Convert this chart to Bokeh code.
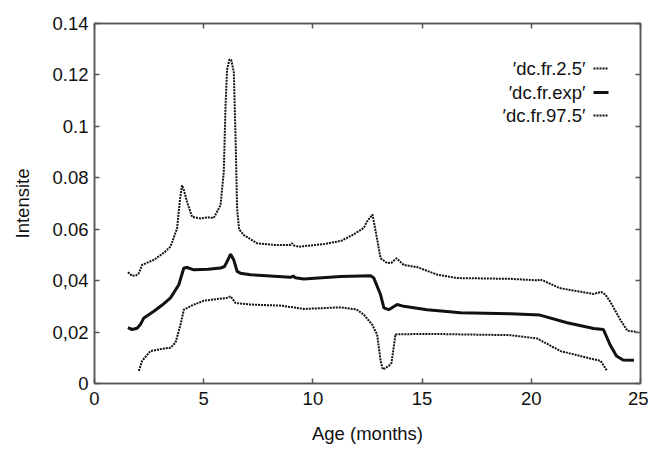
from bokeh.plotting import figure
from bokeh.models import LinearAxis, FixedTicker, Label, PolyAnnotation
from bokeh.embed import file_html
from bokeh.resources import INLINE

# ---- data ----
x_hi = [1.53, 1.72, 1.9, 2.03, 2.18, 2.72, 3.2, 3.48, 3.78, 3.92, 4.01, 4.1, 4.24, 4.47, 4.85, 5.2,
        5.46, 5.77, 5.92, 6.0, 6.07, 6.18, 6.26, 6.38, 6.46, 6.53, 6.62, 6.84, 7.45, 8.21, 8.97,
        9.05, 9.15, 9.35, 10.5, 11.3, 11.87, 12.33, 12.48, 12.73, 12.9, 13.1, 13.4, 13.6, 13.83,
        14.16, 14.8, 15.7, 16.6, 19.05, 20.3, 20.4, 20.6, 21.3, 22.85, 23.2, 23.4, 23.6, 24.1,
        24.4, 24.85]
y_hi = [0.0433, 0.0419, 0.0420, 0.0429, 0.0461, 0.0481, 0.051, 0.0532, 0.0603, 0.072, 0.0771,
        0.075, 0.0706, 0.0648, 0.0642, 0.0646, 0.0644, 0.0693, 0.0823, 0.108, 0.122, 0.126,
        0.1258, 0.121, 0.0951, 0.068, 0.060, 0.0577, 0.0545, 0.0539, 0.0539, 0.0545, 0.0536,
        0.0532, 0.0542, 0.0555, 0.058, 0.0605, 0.063, 0.0657, 0.058, 0.0487, 0.0468, 0.047,
        0.0487, 0.0461, 0.0452, 0.0423, 0.041, 0.0407, 0.0401, 0.0405, 0.0398, 0.0371, 0.0348,
        0.0356, 0.0345, 0.032, 0.0244, 0.0205, 0.0201]

x_exp = [1.53, 1.72, 1.95, 2.1, 2.26, 2.72, 3.1, 3.48, 3.86, 4.09, 4.24, 4.55, 5.2, 5.77, 5.95,
         6.07, 6.23, 6.38, 6.53, 6.68, 7.14, 8.97, 9.1, 9.2, 9.58, 11.26, 12.64, 12.79, 13.1,
         13.25, 13.47, 13.86, 14.16, 15.23, 16.76, 19.05, 20.4, 21.64, 22.86, 23.3, 23.6, 23.9,
         24.2, 24.7]
y_exp = [0.0217, 0.021, 0.0215, 0.0229, 0.0255, 0.0281, 0.0305, 0.0333, 0.0384, 0.0449, 0.0451,
         0.0442, 0.0444, 0.0449, 0.0455, 0.0474, 0.0503, 0.048, 0.0436, 0.0429, 0.0423, 0.0413,
         0.0418, 0.0411, 0.0406, 0.0416, 0.0419, 0.041, 0.0345, 0.0294, 0.0287, 0.0307, 0.030,
         0.0287, 0.0275, 0.0271, 0.0266, 0.0236, 0.0214, 0.021, 0.0152, 0.0107, 0.0091, 0.009]

x_lo = [2.03, 2.18, 2.56, 3.1, 3.48, 3.71, 3.94, 4.09, 4.5, 5.0, 6.07, 6.23, 6.46, 7.14, 8.5,
        9.28, 9.58, 11.26, 12.0, 12.33, 12.71, 12.94, 13.1, 13.2, 13.47, 13.6, 13.78, 15.23,
        19.05, 20.27, 21.34, 22.86, 23.17, 23.47]
y_lo = [0.0049, 0.0088, 0.0126, 0.0135, 0.0139, 0.0159, 0.0229, 0.0287, 0.0305, 0.0322, 0.0333,
        0.0339, 0.0313, 0.0307, 0.0303, 0.0294, 0.029, 0.0296, 0.0288, 0.0268, 0.0229, 0.0191,
        0.0088, 0.0055, 0.0068, 0.0080, 0.0191, 0.0193, 0.0188, 0.0175, 0.0126, 0.0094, 0.0088,
        0.0049]

x_ticks = [0, 5, 10, 15, 20, 25]
y_ticks = [0, 0.02, 0.04, 0.06, 0.08, 0.1, 0.12, 0.14]
y_tick_labels = ["0", "0,02", "0,04", "0.06", "0.08", "0.1", "0.12", "0.14"]
series_names = ["\u2032dc.fr.2.5\u2032", "\u2032dc.fr.exp\u2032", "\u2032dc.fr.97.5\u2032"]

FONT = "Liberation Sans"
INK = "#111111"
FRAME = "#555555"
FS = "18.5px"

p = figure(width=648, height=446, x_range=(0, 25), y_range=(0, 0.14),
           output_backend="svg", toolbar_location=None,
           min_border_left=94, min_border_right=8, min_border_top=23, min_border_bottom=60)
p.grid.visible = False
p.outline_line_color = FRAME
p.outline_line_width = 1.5
p.background_fill_color = "white"
p.border_fill_color = "white"

p.xaxis.ticker = FixedTicker(ticks=x_ticks)
p.yaxis.ticker = FixedTicker(ticks=y_ticks)
p.yaxis.major_label_overrides = {t: l for t, l in zip(y_ticks, y_tick_labels)}
p.xaxis.axis_label = "Age (months)"
p.yaxis.axis_label = "Intensite"

for ax in (p.xaxis[0], p.yaxis[0]):
    ax.major_tick_in = 5
    ax.major_tick_out = 0
    ax.minor_tick_line_color = None
    ax.axis_line_color = FRAME
    ax.axis_line_width = 1.5
    ax.major_tick_line_color = FRAME
    ax.major_tick_line_width = 1.5
    ax.major_label_text_font = FONT
    ax.major_label_text_font_size = FS
    ax.major_label_text_color = INK
    ax.axis_label_text_font = FONT
    ax.axis_label_text_font_size = FS
    ax.axis_label_text_font_style = "normal"
    ax.axis_label_text_color = INK
p.xaxis.major_label_standoff = 8
p.xaxis.axis_label_standoff = 15
p.yaxis.major_label_standoff = 6
p.yaxis.axis_label_standoff = 16

for loc, tick in (("right", y_ticks), ("above", x_ticks)):
    ax = LinearAxis(ticker=FixedTicker(ticks=tick),
                    major_label_overrides={t: "" for t in tick},
                    major_tick_in=5, major_tick_out=0, minor_tick_line_color=None,
                    axis_line_color=FRAME, axis_line_width=1.5,
                    major_tick_line_color=FRAME, major_tick_line_width=1.5,
                    major_label_standoff=0)
    p.add_layout(ax, loc)

p.line(x_lo, y_lo, line_color=INK, line_width=2, line_dash="2 1")
p.line(x_exp, y_exp, line_color=INK, line_width=3)
p.line(x_hi, y_hi, line_color=INK, line_width=2, line_dash="2 1")

# legend: text right-aligned, sample to the right (screen units relative to frame)
rows = [315, 291, 268]
styles = [dict(line_width=2, line_dash="2 1"), dict(line_width=3, line_dash="solid"),
          dict(line_width=2, line_dash="2 1")]
for name, sy, st in zip(series_names, rows, styles):
    p.add_layout(Label(x=491, y=sy, x_units="screen", y_units="screen", text=name,
                       text_align="right", text_baseline="middle", text_font=FONT,
                       text_font_size=FS, text_color=INK))
    p.add_layout(PolyAnnotation(xs=[499, 514], ys=[sy, sy], xs_units="screen",
                                ys_units="screen", line_color=INK, line_alpha=1.0,
                                fill_alpha=0, **st))

open("out.html", "w").write(file_html(p, INLINE))
